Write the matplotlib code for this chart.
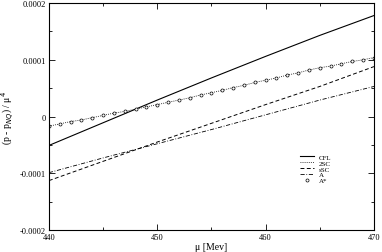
import matplotlib
matplotlib.use("Agg")
import matplotlib.pyplot as plt
from matplotlib.ticker import MultipleLocator, FixedLocator, FixedFormatter

# data (units of 1e-4)
mu = [440, 445, 450, 455, 460, 465, 470]
cfl = [-0.51, -0.11, 0.29, 0.68, 1.06, 1.43, 1.78]
ssc = [-1.13, -0.79, -0.45, -0.12, 0.21, 0.53, 0.88]
a = [-0.99, -0.73, -0.48, -0.23, 0.03, 0.29, 0.53]

mu_star = list(range(440, 471))
a_star = [-0.17, -0.13, -0.09, -0.06, -0.02, 0.02, 0.06, 0.09, 0.13, 0.17,
          0.21, 0.25, 0.29, 0.33, 0.38, 0.42, 0.46, 0.51, 0.55, 0.60,
          0.64, 0.68, 0.73, 0.77, 0.82, 0.86, 0.89, 0.93, 0.97, 1.00, 1.04]
two_sc = a_star

yticks = [-0.0002, -0.0001, 0, 0.0001, 0.0002]
ytick_labels = ["-0.0002", "-0.0001", "0", "0.0001", "0.0002"]

plt.rcParams["font.family"] = "Liberation Serif"
plt.rcParams["font.size"] = 6

fig = plt.figure(figsize=(3.82, 2.53), dpi=100)
ax = fig.add_axes([0.128, 0.087, 0.851, 0.897])

s = 1e-4
ax.plot(mu, [v * s for v in cfl], color="black", lw=0.8, label="CFL")
ax.plot(mu_star, [v * s for v in two_sc], color="black", lw=0.6, ls=(0, (1, 1.5)), label="2SC")
ax.plot(mu, [v * s for v in ssc], color="black", lw=0.7, ls=(0, (4, 2.5)), label="sSC")
ax.plot(mu, [v * s for v in a], color="black", lw=0.6, ls=(0, (5, 2, 1, 2)), label="A")
ax.plot(mu_star, [v * s for v in a_star], ls="none", marker="o", ms=2.2, mfc="white",
        mec="black", mew=0.5, label="A*")

ax.set_xlim(440, 470)
ax.set_ylim(-0.0002, 0.0002)
ax.xaxis.set_major_locator(MultipleLocator(10))
ax.xaxis.set_minor_locator(MultipleLocator(5))
ax.yaxis.set_major_locator(FixedLocator(yticks))
ax.yaxis.set_major_formatter(FixedFormatter(ytick_labels))
ax.yaxis.set_minor_locator(MultipleLocator(0.00005))
ax.tick_params(which="both", direction="in", top=True, right=True, width=0.6)
ax.tick_params(which="major", length=4, pad=2)
ax.tick_params(which="minor", length=2)
for sp in ax.spines.values():
    sp.set_linewidth(0.8)

ax.set_xlabel("μ [Mev]", fontsize=7, labelpad=1)
ax.set_ylabel("(p - p$_{NQ}$) / μ$^4$", fontsize=7, labelpad=3)

ax.legend(loc="upper left", bbox_to_anchor=(0.763, 0.35), frameon=False, fontsize=5,
          handlelength=2.0, handletextpad=0.7, labelspacing=0.0, borderpad=0)

fig.savefig("out.png", dpi=100)
